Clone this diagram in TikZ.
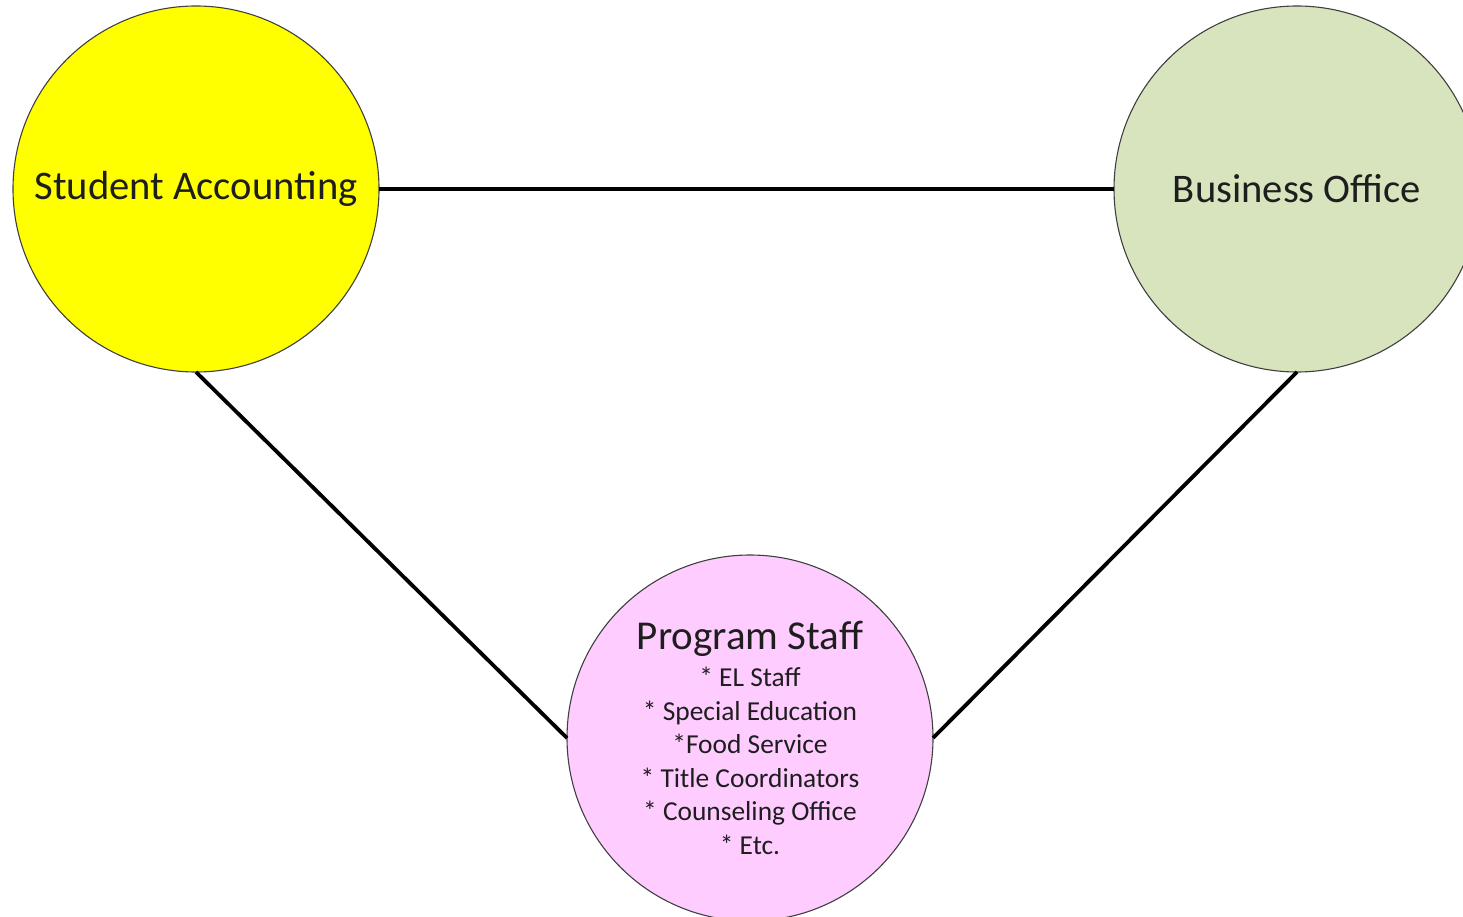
\documentclass[tikz,border=0pt]{standalone}
\usepackage{fontspec}
\setmainfont{Carlito}
\definecolor{saYellow}{HTML}{FFFF00}
\definecolor{boGreen}{HTML}{D7E4BD}
\definecolor{psPink}{HTML}{FFCCFF}
\definecolor{rimGray}{HTML}{404040}
\definecolor{inkDark}{HTML}{1E1E1E}
\begin{document}
\begin{tikzpicture}[x=1pt,y=-1pt,
  unit/.style={circle,draw=rimGray,line width=1.1pt,minimum size=366pt,
    inner sep=0pt,outer sep=0pt,text=inkDark,align=center},
  bigtext/.style={font=\fontsize{40.6}{48}\selectfont},
  listtext/.style={font=\fontsize{27.4}{33.6}\selectfont},
  link/.style={line width=3.8pt,black}]
\useasboundingbox (0,0) rectangle (1463,917);
\node[unit,bigtext,fill=saYellow] (sa) at (196,189) {Student Accounting};
\node[unit,bigtext,fill=boGreen] (bo) at (1297,189) {Business Office};
\node[unit,listtext,fill=psPink] (ps) at (750,738)
  {{\fontsize{41}{48}\selectfont Program Staff}\\[3.4pt]
   * EL Staff\\
   * Special Education\\
   *Food Service\\
   * Title Coordinators\\
   * Counseling Office\\
   * Etc.};
\draw[link] (sa.east) -- (bo.west);
\draw[link] (sa.south) -- (ps.west);
\draw[link] (bo.south) -- (ps.east);
\end{tikzpicture}
\end{document}
